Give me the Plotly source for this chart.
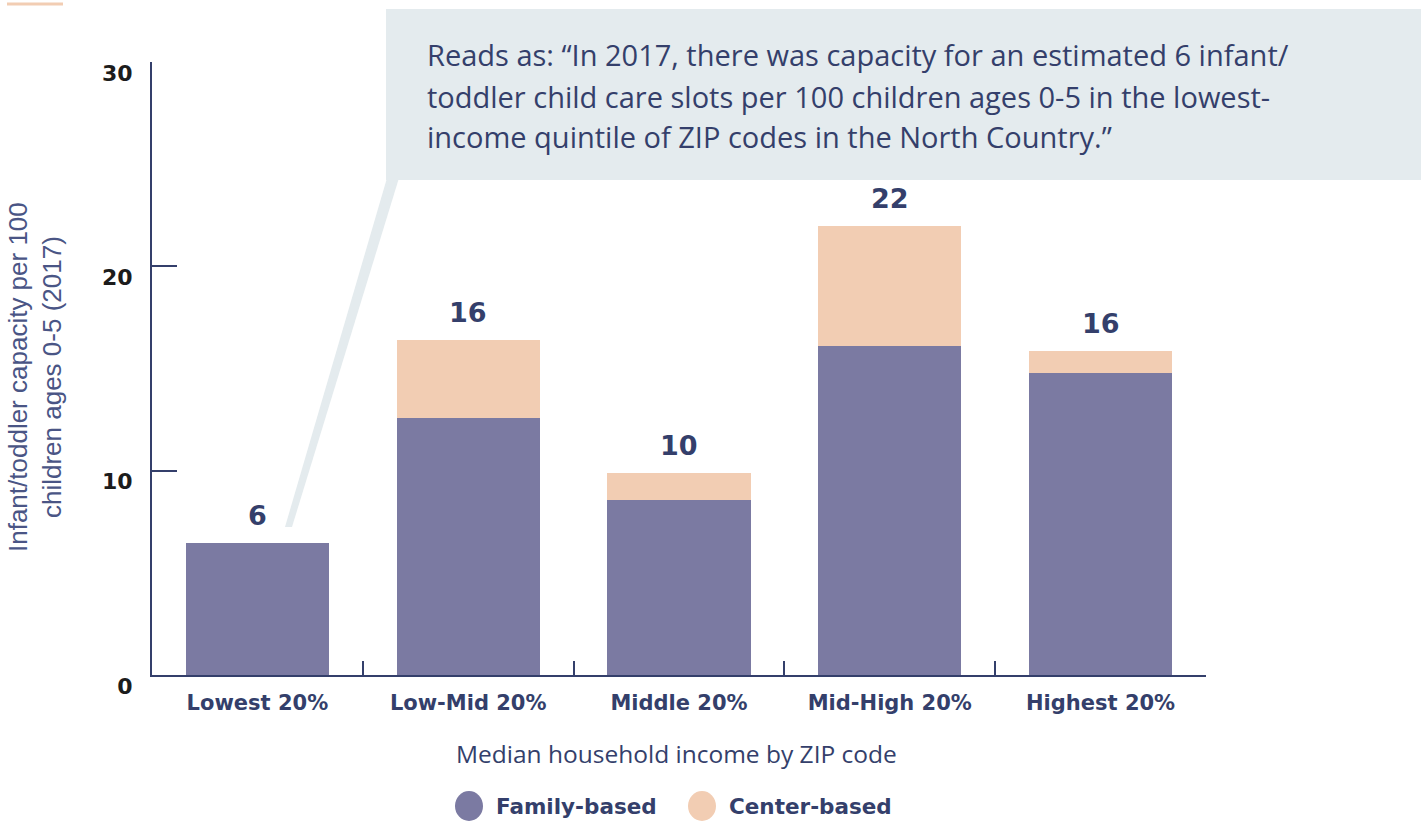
import plotly.graph_objects as go

categories = ["Lowest 20%", "Low-Mid 20%", "Middle 20%", "Mid-High 20%", "Highest 20%"]
family_based = [6.45, 12.57, 8.56, 16.09, 14.77]
center_based = [0.0, 3.81, 1.32, 5.87, 1.07]
total_labels = ["6", "16", "10", "22", "16"]
y_ticks = [0, 10, 20, 30]
note_lines = [
    "Reads as: \u201cIn 2017, there was capacity for an estimated 6 infant/",
    "toddler child care slots per 100 children ages 0-5 in the lowest-",
    "income quintile of ZIP codes in the North Country.\u201d",
]

NAVY = "#343f6b"
FAMILY = "#7b7aa2"
CENTER = "#f2cdb3"
BOX = "#e4ebee"
BOLD = "DejaVu Sans"

L, R, T, B = 152, 1206, 62, 675
W, H = R - L, B - T


def px(x):
    return (x - L) / W


def py(y):
    return (B - y) / H


fig = go.Figure()
fig.add_trace(go.Bar(x=categories, y=family_based, name="Family-based",
                     marker=dict(color=FAMILY, line=dict(width=0)), width=0.68,
                     showlegend=False, hoverinfo="skip"))
fig.add_trace(go.Bar(x=categories, y=center_based, name="Center-based",
                     marker=dict(color=CENTER, line=dict(width=0)), width=0.68,
                     showlegend=False, hoverinfo="skip"))

annotations = []
totals = [f + c for f, c in zip(family_based, center_based)]
for cat, tot, lab in zip(categories, totals, total_labels):
    annotations.append(dict(x=cat, y=tot, xref="x", yref="y", text=lab, showarrow=False,
                            yanchor="middle", yshift=28,
                            font=dict(family=BOLD, size=27, color=NAVY, weight="bold")))

# note box text
for line, yc in zip(note_lines, [55, 96, 136]):
    annotations.append(dict(x=px(425), y=py(yc), xref="paper", yref="paper", text=line,
                            showarrow=False, xanchor="left", yanchor="middle",
                            font=dict(family="Open Sans", size=29, color=NAVY)))

# axis titles
annotations.append(dict(x=px(676), y=py(753), xref="paper", yref="paper",
                        text="Median household income by ZIP code", showarrow=False,
                        xanchor="center", yanchor="middle",
                        font=dict(family="Open Sans", size=24.5, color=NAVY)))
annotations.append(dict(x=px(35), y=py(377), xref="paper", yref="paper",
                        text="Infant/toddler capacity per 100<br>children ages 0-5 (2017)",
                        showarrow=False, textangle=-90, xanchor="center", yanchor="middle",
                        font=dict(family="Liberation Sans", size=26, color="#4a5585")))

# legend
legend_items = [("Family-based", FAMILY, 469, 494), ("Center-based", CENTER, 702, 727)]
shapes = []
for name, col, cx, tx in legend_items:
    shapes.append(dict(type="circle", xref="paper", yref="paper", xsizemode="pixel",
                       ysizemode="pixel", xanchor=px(cx), yanchor=py(806),
                       x0=-14, x1=14, y0=-15, y1=15, fillcolor=col, line=dict(width=0)))
    annotations.append(dict(x=px(tx), y=py(806), xref="paper", yref="paper", text=name,
                            showarrow=False, xanchor="left", yanchor="middle",
                            font=dict(family=BOLD, size=21.5, color=NAVY, weight="bold")))

# note box and pointer
shapes.append(dict(type="rect", xref="paper", yref="paper", x0=px(386), x1=px(1425),
                   y0=py(180), y1=py(9), fillcolor=BOX, line=dict(width=0), layer="below"))
path = "M {},{} L {},{} L {},{} L {},{} Z".format(px(387), py(178), px(399), py(178),
                                                  px(292), py(527), px(285), py(527))
shapes.append(dict(type="path", xref="paper", yref="paper", path=path,
                   fillcolor=BOX, line=dict(width=0), layer="below"))
# top-left accent line
shapes.append(dict(type="line", xref="paper", yref="paper", x0=px(7), x1=px(63),
                   y0=py(4), y1=py(4), line=dict(color=CENTER, width=3)))

fig.update_layout(
    barmode="stack",
    width=1421, height=821,
    margin=dict(l=L, r=1421 - R, t=T, b=821 - B, autoexpand=False),
    paper_bgcolor="white", plot_bgcolor="white",
    showlegend=False,
    annotations=annotations,
    shapes=shapes,
    xaxis=dict(range=[-0.5, 4.5], showline=True, linecolor=NAVY, linewidth=2,
               ticks="inside", tickson="boundaries", ticklen=14, tickwidth=2, tickcolor=NAVY,
               showgrid=False, zeroline=False, ticklabelstandoff=8,
               tickfont=dict(family=BOLD, size=21, color=NAVY, weight="bold")),
    yaxis=dict(range=[0, 30], tickvals=y_ticks, showline=True, linecolor=NAVY, linewidth=2,
               ticks="inside", ticklen=25, tickwidth=2, tickcolor=NAVY,
               showgrid=False, zeroline=False, ticklabelstandoff=13, ticklabelshift=11,
               tickfont=dict(family=BOLD, size=22, color="#1c1c1c", weight="bold")),
)

fig.write_html("out.html", config={"displayModeBar": False},
               post_script="document.body.style.margin='0';document.body.style.overflow='hidden';")
